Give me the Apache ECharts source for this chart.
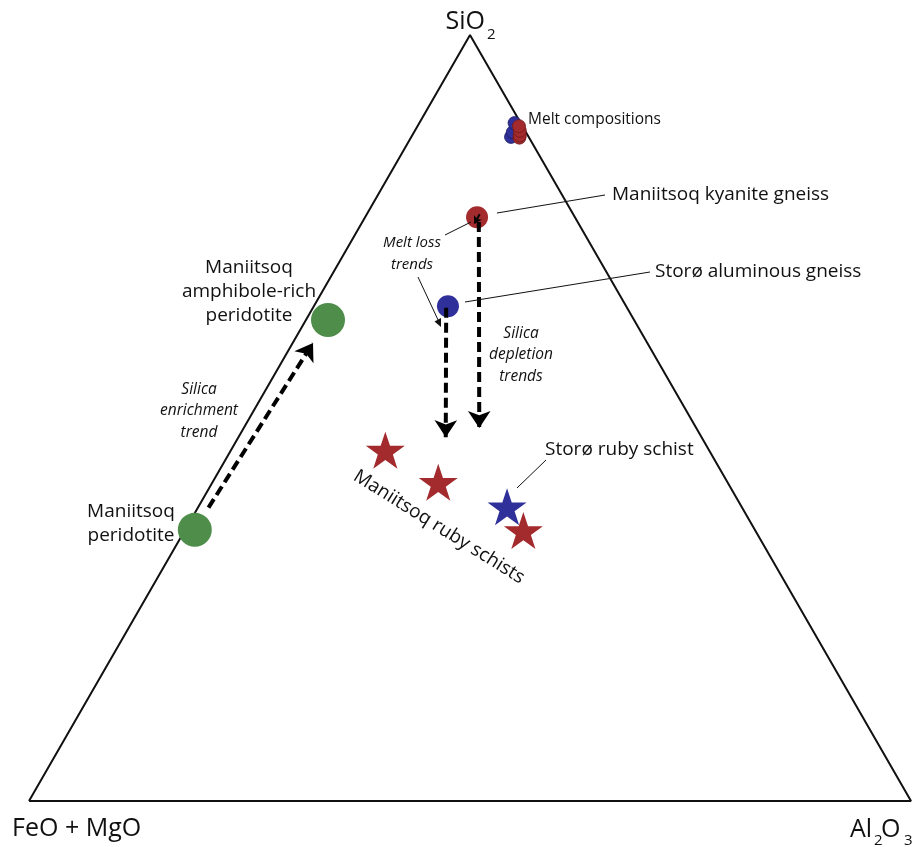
<!DOCTYPE html>
<html><head><meta charset="utf-8">
<script src="https://cdn.jsdelivr.net/npm/echarts@6/dist/echarts.min.js"></script>
<style>html,body{margin:0;padding:0;background:#fff}#c{width:915px;height:847px}</style>
</head><body><div id="c"></div><script>
// Ternary compositions given as [SiO2 %, Al2O3 %]; FeO+MgO = 100 - SiO2 - Al2O3
const apexNames = ['SiO', 'FeO + MgO', 'Al', 'O'];
const triangle = [[0, 0], [100, 0], [0, 100], [0, 0]]; // FeO+MgO, SiO2, Al2O3 apexes
const meltBlue = [[86.7, 11.3], [87.3, 11.2], [88.5, 10.8]];
const meltRed = [[86.6, 12.3], [86.9, 12.2], [87.5, 11.9], [88.1, 11.5]];
const kyaniteGneiss = [[76.2, 12.7]];
const storoGneiss = [[64.6, 15.2]];
const peridotites = [[35.4, 1.1], [62.8, 2.5]];
const rubyStoro = [[38.4, 35.0]];
const rubyManiitsoq = [[45.8, 17.5], [41.6, 25.6], [35.3, 38.4]];
const enrichmentTrend = [[38.3, 1.2], [59.8, 2.3]];
const depletionKyanite = [[75.6, 13.2], [48.7, 26.7]];
const depletionStoro = [[64.4, 15.1], [47.5, 23.5]];
const meltLossKyanite = [[76.6, 12.8], [75.4, 12.8]];

const FONT = '"Open Sans", "Noto Sans", sans-serif';
const RED = '#a32b2d', BLUE = '#30309a', GREEN = '#4f8d4b', INK = '#111';
const H = Math.sqrt(3) / 2;
const toXY = p => { const t = p[0] / 100, r = p[1] / 100; return [r + t / 2, t * H]; };
const STAR = 'path://M50,0 L61.8,35.1 L98.9,35.1 L68.9,56.8 L80.3,91.9 L50,70.2 L19.7,91.9 L31.1,56.8 L1.1,35.1 L38.2,35.1 Z';

function txt(text, x, y, size, opts) {
  opts = opts || {};
  return {
    type: 'text', x: x, y: y, rotation: opts.rotation || 0, z: 10, silent: true,
    style: {
      text: text, x: 0, y: 0, fill: INK,
      font: (opts.italic ? 'italic ' : '') + size + 'px ' + FONT,
      textAlign: opts.align || 'left', textVerticalAlign: 'middle',
      lineHeight: opts.lh || size * 1.25
    }
  };
}
function seg(x1, y1, x2, y2) {
  return { type: 'line', z: 9, silent: true, shape: { x1, y1, x2, y2 }, style: { stroke: INK, lineWidth: 1 } };
}

const chart = echarts.init(document.getElementById('c'), null, { renderer: 'canvas' });
const scat = (data, size, color, symbol, border) => ({
  type: 'scatter', data: data.map(toXY), symbol: symbol || 'circle', symbolSize: size,
  itemStyle: { color: color, opacity: 1, borderColor: border || 'transparent', borderWidth: border ? 0.8 : 0 },
  silent: true, z: 3
});
const arrow = (pts, width, size, dash) => ({
  type: 'lines', coordinateSystem: 'cartesian2d', polyline: false, silent: true, z: 5,
  symbol: ['none', 'arrow'], symbolSize: size,
  data: [{ coords: pts.map(toXY) }],
  lineStyle: { color: '#000', width: width, type: dash || 'solid', opacity: 1, curveness: 0 }
});

chart.setOption({
  animation: false,
  backgroundColor: '#fff',
  grid: { left: 29, right: 4, top: 35, bottom: 46, containLabel: false },
  xAxis: { type: 'value', min: 0, max: 1, show: false },
  yAxis: { type: 'value', min: 0, max: H, show: false },
  series: [
    { type: 'line', data: triangle.map(toXY), symbol: 'none', silent: true, z: 1,
      lineStyle: { color: INK, width: 2 } },
    scat(meltBlue, 13, BLUE, 'circle', '#1d1d66'),
    scat(meltRed, 13, RED, 'circle', '#6e1a1b'),
    scat(kyaniteGneiss, 22, RED),
    scat(storoGneiss, 22, BLUE),
    scat(peridotites, 34, GREEN),
    scat(rubyStoro, [39, 37], BLUE, STAR),
    scat(rubyManiitsoq, [39, 37], RED, STAR),
    arrow(enrichmentTrend, 4, 17, [10, 5]),
    arrow(depletionKyanite, 4, 17, [10, 5]),
    arrow(depletionStoro, 4, 17, [10, 5]),
    arrow(meltLossKyanite, 2, 7)
  ],
  graphic: [
    txt(apexNames[0], 485, 22, 25, { align: 'right' }),
    txt('2', 487, 35, 15),
    txt(apexNames[1], 12, 829, 25),
    txt(apexNames[2], 850, 830, 25),
    txt('2', 874, 841, 15),
    txt(apexNames[3], 881, 830, 25),
    txt('3', 904, 841, 15),
    txt('Melt compositions', 528, 120, 15.5),
    txt('Maniitsoq kyanite gneiss', 612, 195, 19),
    txt('Storø aluminous gneiss', 655, 272, 19),
    txt('Melt loss\ntrends', 412, 254, 15, { italic: true, align: 'center', lh: 22 }),
    txt('Silica\ndepletion\ntrends', 521, 355, 15.5, { italic: true, align: 'center', lh: 21.5 }),
    txt('Maniitsoq\namphibole-rich\nperidotite', 249, 292, 19, { align: 'center', lh: 24 }),
    txt('Silica\nenrichment\ntrend', 199, 411, 15.5, { italic: true, align: 'center', lh: 21.5 }),
    txt('Maniitsoq\nperidotite', 131, 524, 19, { align: 'center', lh: 24 }),
    txt('Storø ruby schist', 545, 450, 19),
    txt('Maniitsoq ruby schists', 439, 527, 19, { align: 'center', rotation: -32 * Math.PI / 180 }),
    seg(497, 213, 605, 195),
    seg(465, 302, 650, 272),
    seg(517, 488, 546, 460),
    seg(445, 235, 471, 222),
    seg(418, 277, 439, 322),
    { type: 'polygon', z: 9, silent: true, shape: { points: [[441, 327], [441, 318], [434.5, 321.5]] }, style: { fill: INK } }
  ]
});
</script></body></html>
